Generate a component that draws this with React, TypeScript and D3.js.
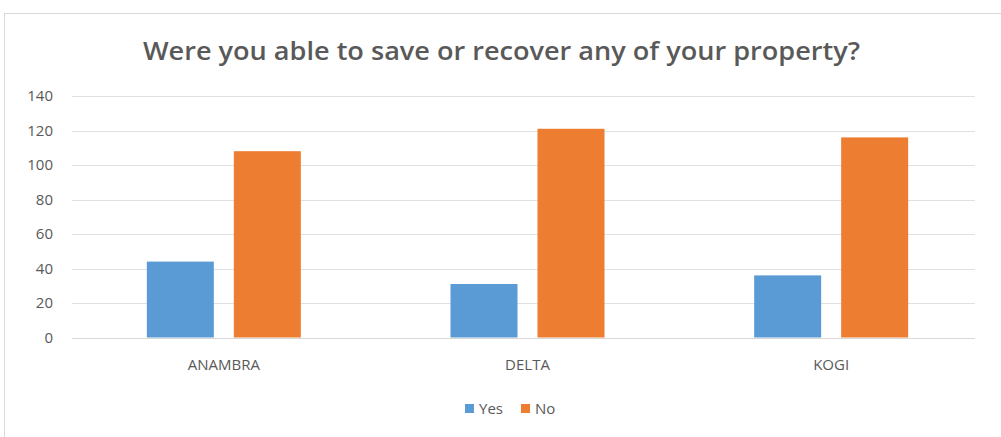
import React from "react";
import * as d3 from "d3";

const categories = ["ANAMBRA", "DELTA", "KOGI"];
const seriesNames = ["Yes", "No"];
const yesValues = [44, 31, 36];
const noValues = [108, 121, 116];
const yTicks = [0, 20, 40, 60, 80, 100, 120, 140];
const colors = ["#5B9BD5", "#ED7D31"];
const title = "Were you able to save or recover any of your property?";

export default function App() {
  const W = 1001, H = 437;
  const left = 72, right = 983, top = 96, bottom = 337.5;
  const x = d3.scaleBand<string>().domain(categories).range([left, right]);
  const y = d3.scaleLinear().domain([0, 140]).range([bottom, top]);
  const barW = 67, gap = 20;
  const series = [yesValues, noValues];
  const font = "'Open Sans', 'Liberation Sans', sans-serif";
  return (
    <svg width={W} height={H} style={{ position: "absolute", left: 0, top: 0, background: "#fff" }} fontFamily={font}>
      <rect x={4.5} y={13.5} width={W} height={H} fill="#fff" stroke="#d9d9d9" strokeWidth={1} />
      <text x={501.5} y={60} textAnchor="middle" fontSize={25} fontWeight={600} fill="#595959" textLength={717} lengthAdjust="spacingAndGlyphs">{title}</text>
      {yTicks.map((t) => (
        <g key={t}>
          <line x1={left} x2={right - 8} y1={Math.round(y(t)) + 0.5} y2={Math.round(y(t)) + 0.5} stroke={t === 0 ? "#d9d9d9" : "#e0e0e0"} strokeWidth={1} />
          <text x={53} y={y(t) + 5} textAnchor="end" fontSize={15} fill="#595959">{t}</text>
        </g>
      ))}
      {categories.map((c, i) => {
        const cx = x(c)! + x.bandwidth() / 2;
        return (
          <g key={c}>
            {series.map((vals, s) => {
              const bx = s === 0 ? cx - gap / 2 - barW : cx + gap / 2;
              return <rect key={s} x={bx} y={y(vals[i])} width={barW} height={y(0) - y(vals[i])} fill={colors[s]} />;
            })}
            <text x={cx} y={370} textAnchor="middle" fontSize={15} fill="#595959">{c}</text>
          </g>
        );
      })}
      <g>
        <rect x={465} y={404} width={9} height={9} fill={colors[0]} />
        <text x={479} y={414} fontSize={15} fill="#595959">{seriesNames[0]}</text>
        <rect x={521} y={404} width={9} height={9} fill={colors[1]} />
        <text x={535} y={414} fontSize={15} fill="#595959">{seriesNames[1]}</text>
      </g>
    </svg>
  );
}
